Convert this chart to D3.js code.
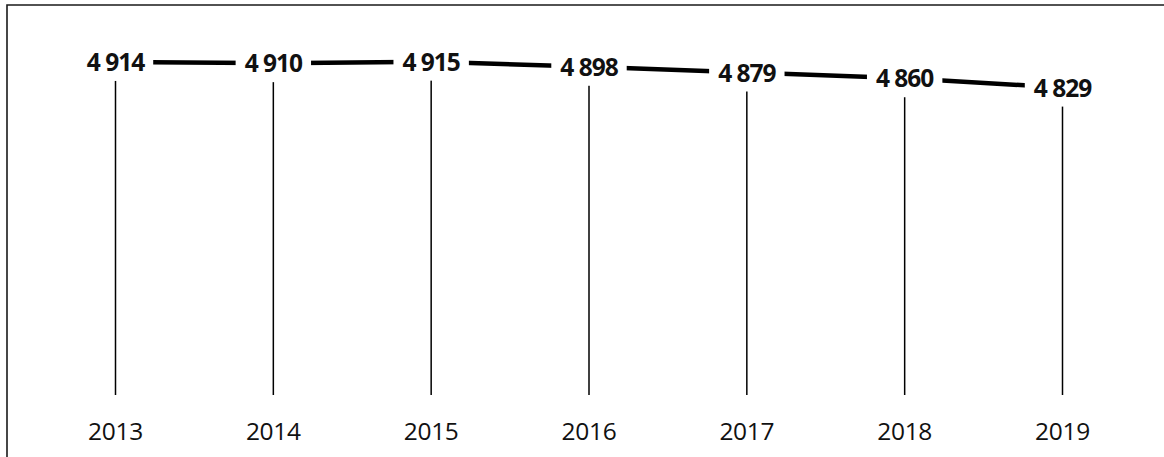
<!DOCTYPE html>
<html>
<head>
<meta charset="utf-8">
<script src="https://cdn.jsdelivr.net/npm/d3@7"></script>
<style>
  html, body { margin: 0; padding: 0; background: #fff; }
  svg { display: block; }
</style>
</head>
<body>
<script>
// Population series, one value per year
const years = ["2013", "2014", "2015", "2016", "2017", "2018", "2019"];
const values = [4914, 4910, 4915, 4898, 4879, 4860, 4829];

const width = 1164, height = 457;

const svg = d3.select("body").append("svg")
  .attr("width", width)
  .attr("height", height);

// Frame: top and left edges
svg.append("path")
  .attr("d", `M7,${height} L7,5 L${width},5`)
  .attr("fill", "none")
  .attr("stroke", "#1a1a1a")
  .attr("stroke-width", 1.6);

const x = d3.scalePoint().domain(years).range([115.5, 1062.5]);
const y = d3.scaleLinear().domain([3810, 5000]).range([395, 36]);

const locale = d3.formatLocale({ decimal: ",", thousands: "\u00a0", grouping: [3], currency: ["", ""] });
const fmt = locale.format(",d");

const data = years.map((yr, i) => ({ year: yr, value: values[i] }));

// Drop lines from each point to the category axis
svg.append("g")
  .selectAll("line")
  .data(data)
  .join("line")
  .attr("x1", d => x(d.year))
  .attr("x2", d => x(d.year))
  .attr("y1", d => y(d.value))
  .attr("y2", y.range()[0])
  .attr("stroke", "#000")
  .attr("stroke-width", 1.5);

// Main line
const line = d3.line().x(d => x(d.year)).y(d => y(d.value));
svg.append("path")
  .datum(data)
  .attr("d", line)
  .attr("fill", "none")
  .attr("stroke", "#000")
  .attr("stroke-width", 4.5);

// Value labels with white boxes
const labels = svg.append("g")
  .selectAll("g")
  .data(data)
  .join("g")
  .attr("transform", d => `translate(${x(d.year)},${y(d.value)})`);

const texts = labels.append("text")
  .attr("text-anchor", "middle")
  .attr("dy", "0.37em")
  .attr("font-family", "'Open Sans', sans-serif")
  .attr("font-weight", "bold")
  .attr("font-size", 24.5)
  .attr("letter-spacing", -1)
  .attr("fill", "#111")
  .text(d => fmt(d.value));

texts.each(function () {
  const w = this.getComputedTextLength();
  d3.select(this.parentNode).insert("rect", "text")
    .attr("x", -w / 2 - 9)
    .attr("y", -19)
    .attr("width", w + 18)
    .attr("height", 38)
    .attr("fill", "#fff");
});

// Category labels
svg.append("g")
  .selectAll("text")
  .data(years)
  .join("text")
  .attr("x", d => x(d))
  .attr("y", 439.5)
  .attr("text-anchor", "middle")
  .attr("font-family", "'Open Sans', sans-serif")
  .attr("font-size", 24.5)
  .attr("letter-spacing", -0.3)
  .attr("fill", "#111")
  .text(d => d);
</script>
</body>
</html>
